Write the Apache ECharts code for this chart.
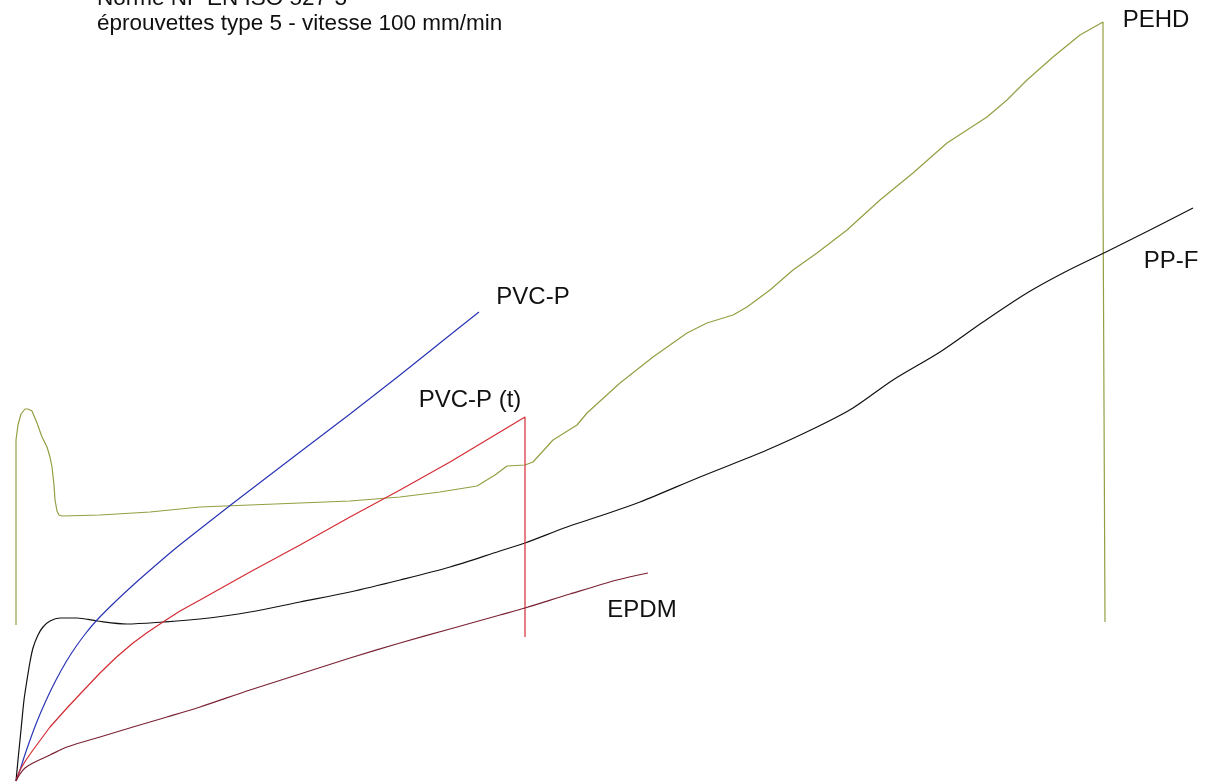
<!DOCTYPE html>
<html lang="fr">
<head>
    <meta charset="UTF-8">
    <title>Norme NF EN ISO 527-3</title>
    <script src="https://cdn.jsdelivr.net/npm/echarts@6/dist/echarts.min.js"></script>
    <style>
        html, body { margin: 0; padding: 0; background: #fff; }
        #container { width: 1205px; height: 784px; }
    </style>
</head>
<body>
<div id="container"></div>
<script type="text/javascript">
    // allongement (%) , force (N)
    let pehd = [
        [0, 15.6], [0, 34.1], [1, 35.6], [2.5, 36.7], [4.5, 37.2], [6, 37.2], [8, 37.0], [10.5, 35.8],
        [13, 34.4], [15.5, 33.4], [17, 32.4], [18, 31.4], [19, 29.6], [19.5, 28.1], [20.5, 27.0],
        [21.5, 26.6], [23, 26.5], [42, 26.6], [67, 26.9], [92, 27.4], [117, 27.6], [142, 27.8],
        [167, 28.0], [192, 28.4], [212, 28.9], [230.5, 29.5], [239.5, 30.6], [245.5, 31.5],
        [254.5, 31.6], [258.5, 31.9], [268.5, 34.1], [280.5, 35.6], [285.5, 36.8], [302, 39.8],
        [318.5, 42.4], [335.5, 44.8], [345.5, 45.8], [358.5, 46.6], [365.5, 47.4], [377, 49.1],
        [388.5, 51.1], [400.5, 52.8], [415.5, 55.1], [432, 58.1], [448.5, 60.8], [465.5, 63.8],
        [485.5, 66.4], [495.5, 68.1], [505.5, 70.1], [518.5, 72.4], [532, 74.6], [543.5, 75.9],
        [543.5, 59.1], [544.5, 58.9], [544.5, 15.9]
    ];
    let ppf = [
        [0, 0], [1, 2.1], [2.5, 5.1], [4, 8.1], [5.5, 10.1], [7, 11.9], [8.5, 13.3], [11, 14.6],
        [13.5, 15.4], [17, 16.0], [22, 16.3], [30.5, 16.3], [40.5, 16.0], [55.5, 15.7], [73.5, 15.9],
        [92, 16.2], [117, 16.9], [142, 17.9], [167, 18.9], [192, 20.1], [217, 21.4], [242, 23.0],
        [254.5, 23.8], [275.5, 25.4], [292, 26.5], [312, 27.9], [342, 30.4], [375.5, 33.1],
        [400.5, 35.4], [418.5, 37.3], [438.5, 40.1], [462, 42.9], [483.5, 45.9], [505.5, 48.8],
        [524.5, 50.9], [545, 52.9], [567, 55.1], [588.5, 57.3]
    ];
    let pvcp = [
        [0, 0], [2, 1.1], [5, 2.95], [10, 5.7], [15, 8.05], [20, 10.1], [25, 11.9], [30, 13.45],
        [35, 14.8], [40.5, 16.1], [50, 18.0], [60, 19.85], [70, 21.6], [80, 23.3], [92, 25.2],
        [108, 27.7], [142, 32.9], [167, 36.7], [192, 40.6], [212, 43.8], [231.5, 46.9]
    ];
    let pvcpt = [
        [0, 0], [1, 0.6], [2, 1.1], [5, 2.1], [8.5, 3.1], [17, 5.4], [25.5, 7.3], [33, 8.9],
        [42, 10.8], [50, 12.35], [58.5, 13.8], [66, 14.9], [73.5, 15.9], [82, 17.0], [92, 18.1],
        [117, 20.9], [142, 23.6], [167, 26.4], [192, 29.1], [217, 31.9], [242, 34.9],
        [254.5, 36.4], [254.5, 14.4]
    ];
    let epdm = [
        [0, 0], [2, 0.7], [4.5, 1.3], [8.5, 1.8], [17, 2.6], [25.5, 3.4], [42, 4.4], [58.5, 5.4],
        [75.5, 6.4], [92, 7.4], [117, 9.1], [142, 10.7], [167, 12.3], [192, 13.8], [217, 15.2],
        [242, 16.6], [254.5, 17.3], [277, 18.7], [300.5, 20.1], [316, 20.8]
    ];
    // position des étiquettes (même repère)
    let labels = {
        'PEHD': [570, 76.1],
        'PP-F': [577.5, 52.0],
        'PVC-P': [258.5, 48.4],
        'PVC-P (t)': [227, 38.1],
        'EPDM': [313, 17.1]
    };
    let colors = {
        'PEHD': '#959e42',
        'PP-F': '#111111',
        'PVC-P': '#2b36b5',
        'PVC-P (t)': '#d42c34',
        'EPDM': '#7a2232'
    };

    function makeSeries(name, data, smooth) {
        return {
            name: name,
            type: 'line',
            data: data,
            symbol: 'none',
            smooth: smooth,
            lineStyle: { color: colors[name], width: 1.2 },
            markPoint: {
                symbol: 'circle',
                symbolSize: 0,
                silent: true,
                label: {
                    show: true,
                    position: 'inside',
                    formatter: name,
                    color: '#111',
                    fontSize: 24,
                    fontFamily: 'Liberation Sans'
                },
                data: [{ coord: labels[name] }]
            }
        };
    }

    let myChart = echarts.init(document.getElementById('container'));
    let option = {
        animation: false,
        backgroundColor: '#fff',
        title: {
            text: 'Norme NF EN ISO 527-3\néprouvettes type 5 - vitesse 100 mm/min',
            left: 97,
            top: -14,
            padding: 0,
            textStyle: {
                fontFamily: 'Liberation Sans',
                fontSize: 22.5,
                lineHeight: 25,
                fontWeight: 'normal',
                color: '#111'
            }
        },
        grid: { left: 16, right: 0, top: 0, bottom: 3 },
        xAxis: { type: 'value', min: 0, max: 594.5, show: false },
        yAxis: { type: 'value', min: 0, max: 78.1, show: false },
        series: [
            makeSeries('PEHD', pehd, false),
            makeSeries('PP-F', ppf, 0.3),
            makeSeries('PVC-P', pvcp, 0.3),
            makeSeries('PVC-P (t)', pvcpt, false),
            makeSeries('EPDM', epdm, 0.3)
        ]
    };
    myChart.setOption(option);
</script>
</body>
</html>
